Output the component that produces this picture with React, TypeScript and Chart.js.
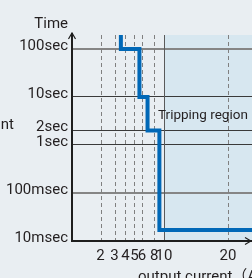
import { useEffect, useRef } from "react";
import { Chart, registerables, LinearScale } from "chart.js";

// ---- data ----
const X_TICKS = [2, 3, 4, 5, 6, 8, 10, 20];
const X_MIN = 0.675;
const X_MAX = 23.75;
const Y_TICKS = [0.01, 0.1, 1, 2, 10, 100];
const Y_TICK_LABELS = ["10msec", "100msec", "1sec", "2sec", "10sec", "100sec"];
const Y_MIN = 0.01;
const Y_MAX = 195;
// breakpoints of the stepped tripping curve (vertical first, then horizontal)
const TRIP_CURRENT = [3.55, 5.65, 6.85, 9.0, 23.75];
const TRIP_TIME = [195, 100, 10, 2, 0.017];
const REGION_START = 10;
const SOLID_X = [10];
const REGION_LABEL = "Tripping region";
const REGION_LABEL_X = 8.72;
const REGION_LABEL_Y = 3.4;
const Y_TITLE = "Time";
const X_TITLE = "output current（A）";
const LEFT_FRAGMENT = "nt";

// ---- style ----
const FONT = "Roboto, 'Noto Sans CJK JP', sans-serif";
const TEXT = "#231f20";
const BG = "#e9eef2";
const REGION_FILL = "#d7e7f0";
const CURVE = "#0068b7";
const BREAK = 10; // compressed-log below, linear above
const LIN_K = 0.0568; // scale units per ampere above the break

class BrokenLogScale extends LinearScale {
  static id = "brokenlog";
  tf(v: number) {
    return v <= BREAK ? Math.log10(v + 1) : Math.log10(BREAK + 1) + (v - BREAK) * LIN_K;
  }
  itf(t: number) {
    const tb = Math.log10(BREAK + 1);
    return t <= tb ? Math.pow(10, t) - 1 : BREAK + (t - tb) / LIN_K;
  }
  buildTicks() {
    return X_TICKS.map((v) => ({ value: v }));
  }
  getPixelForValue(v: number) {
    const a = this.tf(this.min);
    const b = this.tf(this.max);
    return this.getPixelForDecimal((this.tf(v) - a) / (b - a));
  }
  getValueForPixel(p: number) {
    const a = this.tf(this.min);
    const b = this.tf(this.max);
    return this.itf(a + this.getDecimalForPixel(p) * (b - a));
  }
}

Chart.register(...registerables, BrokenLogScale);

const decor = {
  id: "decor",
  beforeDraw(chart: any) {
    const { ctx, chartArea: a, scales } = chart;
    const x = scales.x;
    ctx.save();
    ctx.fillStyle = BG;
    ctx.fillRect(0, 0, chart.width, chart.height);
    const rx = x.getPixelForValue(REGION_START);
    ctx.fillStyle = REGION_FILL;
    ctx.fillRect(rx, a.top, a.right - rx, a.bottom - a.top);
    ctx.restore();
  },
  beforeDatasetsDraw(chart: any) {
    const { ctx, chartArea: a, scales } = chart;
    const x = scales.x;
    ctx.save();
    ctx.lineWidth = 1;
    X_TICKS.forEach((v) => {
      const px = Math.round(x.getPixelForValue(v)) + 0.5;
      const solid = SOLID_X.includes(v);
      ctx.setLineDash(solid ? [] : [4, 3]);
      ctx.strokeStyle = solid ? "#5a5a5a" : "#808080";
      ctx.beginPath();
      ctx.moveTo(px, a.top);
      ctx.lineTo(px, a.bottom);
      ctx.stroke();
    });
    ctx.restore();
  },
  afterDraw(chart: any) {
    const { ctx, chartArea: a, scales } = chart;
    const x = scales.x;
    const y = scales.y;
    ctx.save();
    // axes with arrows
    ctx.strokeStyle = "#1e1e1e";
    ctx.lineWidth = 2;
    ctx.setLineDash([]);
    ctx.beginPath();
    ctx.moveTo(a.left, a.top - 2);
    ctx.lineTo(a.left, a.bottom);
    ctx.lineTo(chart.width, a.bottom);
    ctx.stroke();
    ctx.lineWidth = 1.2;
    ctx.beginPath();
    ctx.moveTo(a.left - 3.5, a.top + 4);
    ctx.lineTo(a.left, a.top - 2);
    ctx.lineTo(a.left + 3.5, a.top + 4);
    ctx.moveTo(chart.width - 7, a.bottom - 3.5);
    ctx.lineTo(chart.width - 1, a.bottom);
    ctx.lineTo(chart.width - 7, a.bottom + 3.5);
    ctx.stroke();
    // texts
    ctx.fillStyle = TEXT;
    ctx.font = `15px ${FONT}`;
    ctx.textBaseline = "alphabetic";
    ctx.textAlign = "right";
    ctx.fillText(Y_TITLE, a.left - 4, 28);
    ctx.fillText(LEFT_FRAGMENT, 14, 129);
    ctx.textAlign = "left";
    ctx.font = `13.5px ${FONT}`;
    ctx.fillText(REGION_LABEL, x.getPixelForValue(REGION_LABEL_X), y.getPixelForValue(REGION_LABEL_Y));
    ctx.font = `15px ${FONT}`;
    ctx.fillText(X_TITLE, 138, 281);
    ctx.restore();
  },
};

export default function App() {
  const ref = useRef<HTMLCanvasElement | null>(null);
  useEffect(() => {
    if (!ref.current) return;
    const chart = new Chart(ref.current, {
      type: "line",
      data: {
        datasets: [
          {
            data: TRIP_CURRENT.map((c, i) => ({ x: c, y: TRIP_TIME[i] })),
            borderColor: CURVE,
            borderWidth: 4,
            pointRadius: 0,
            stepped: "after",
            borderJoinStyle: "miter",
            borderCapStyle: "butt",
            fill: false,
          } as any,
        ],
      },
      options: {
        responsive: false,
        animation: false,
        events: [],
        layout: { padding: { top: 35, left: 0, right: 0, bottom: 0 } },
        plugins: { legend: { display: false }, tooltip: { enabled: false } },
        scales: {
          x: {
            type: "brokenlog" as any,
            min: X_MIN,
            max: X_MAX,
            afterFit: (s: any) => {
              s.height = 37;
            },
            grid: { display: false },
            border: { display: false },
            ticks: {
              autoSkip: false,
              maxRotation: 0,
              minRotation: 0,
              padding: -2,
              color: TEXT,
              font: { family: FONT, size: 15 },
              callback: (v: any) => String(v),
            },
          },
          y: {
            type: "logarithmic",
            min: Y_MIN,
            max: Y_MAX,
            afterFit: (s: any) => {
              s.width = 72;
            },
            afterBuildTicks: (s: any) => {
              s.ticks = Y_TICKS.map((v) => ({ value: v }));
            },
            grid: {
              drawTicks: false,
              color: (c: any) =>
                c.tick && (c.tick.value === 100 || c.tick.value === 0.1) ? "#858585" : "#3a3a3a",
              lineWidth: (c: any) =>
                c.tick && (c.tick.value === 100 || c.tick.value === 0.1) ? 2 : 1,
            },
            border: { display: false },
            ticks: {
              autoSkip: false,
              padding: 4,
              labelOffset: -3,
              color: TEXT,
              font: { family: FONT, size: 15 },
              callback: (v: any) => Y_TICK_LABELS[Y_TICKS.indexOf(Number(v))] ?? "",
            },
          },
        },
      },
      plugins: [decor],
    });
    return () => chart.destroy();
  }, []);
  return (
    <div style={{ position: "fixed", left: 0, top: 0, width: 252, height: 278, overflow: "hidden" }}>
      <canvas ref={ref} width={252} height={278} style={{ display: "block" }} />
    </div>
  );
}
